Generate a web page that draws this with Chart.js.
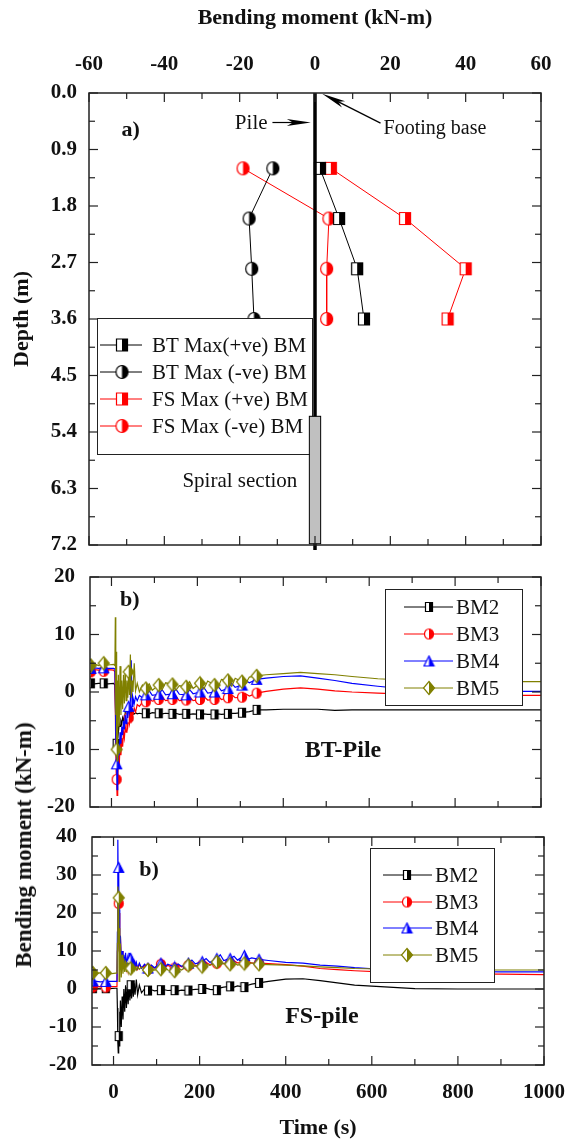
<!DOCTYPE html>
<html>
<head>
<meta charset="utf-8">
<script src="https://cdn.jsdelivr.net/npm/chart.js@4.4.1/dist/chart.umd.min.js"></script>
<style>
  html, body { margin: 0; padding: 0; background: #fff; }
  body { position: relative; width: 571px; height: 1146px; overflow: hidden; }
  canvas { position: absolute; left: 0; }
  #bmTitle {
    position: absolute; left: 24px; top: 845px;
    transform: translate(-50%, -50%) rotate(-90deg);
    white-space: nowrap; font: bold 23px "Liberation Serif", serif; color: #111;
  }
</style>
</head>
<body>
<canvas id="depthChart" width="571" height="560" style="top:0"></canvas>
<canvas id="btChart" width="571" height="260" style="top:560px"></canvas>
<canvas id="fsChart" width="571" height="326" style="top:820px"></canvas>
<div id="bmTitle">Bending moment (kN-m)</div>
<script>
const serif = 'Liberation Serif';
const ink = '#222';

// a) max bending moment along the pile
const depth = [1.2, 2.0, 2.8, 3.6];
const btMaxPos = [1.3, 6.4, 11.2, 13.0];
const btMaxNeg = [-11.2, -17.5, -16.8, -16.2];
const fsMaxPos = [4.2, 23.9, 40.0, 35.2];
const fsMaxNeg = [-19.1, 3.7, 3.1, 3.1];
const momentTicks = [-60, -40, -20, 0, 20, 40, 60];
const depthTicks = [0, 0.9, 1.8, 2.7, 3.6, 4.5, 5.4, 6.3, 7.2];

// b) time histories (BT pile and FS pile)
const time = [-50, -48, -40, -30, -18, -8, 5, 8, 9, 10,
  11, 12, 13, 14, 15, 16, 18, 20, 22, 24,
  26, 28, 30, 32, 34, 36, 38, 40, 42, 44,
  46, 48, 50, 53, 56, 60, 65, 72, 80, 88,
  95, 110, 118, 126, 142, 150, 158, 174, 182, 190,
  206, 215, 224, 240, 248, 256, 271, 280, 288, 304,
  312, 321, 338, 360, 400, 440, 480, 520, 560, 620,
  700, 800, 900, 1000];
const markTimes = [-48, -18, 12, 40, 80, 110, 142, 174, 206, 240, 271, 304, 338];

const btBM2 = [1.5, 1.5, 1.4, 1.5, 1.5, 1.4, 1.5, 1.2, -2, -5,
  -8, -9, -7, -8, -6, -7, -5.5, -6, -5, -5.5,
  -4.5, -5, -4.2, -4.6, -4, -4.4, -3.8, -4.2, -3.7, -4,
  -3.6, -3.9, -3.6, -3.8, -3.6, -3.8, -3.7, -3.8, -3.7, -3.8,
  -3.6, -3.7, -3.8, -3.7, -3.8, -3.7, -3.9, -3.8, -3.9, -3.8,
  -3.9, -3.8, -3.9, -3.9, -3.8, -3.9, -3.8, -3.7, -3.7, -3.6,
  -3.5, -3.4, -3.1, -3.1, -3.0, -3.0, -3.0, -3.2, -3.1, -3.1,
  -3.1, -3.1, -3.1, -3.1];
const btBM3 = [3.8, 3.5, 3.9, 3.8, 3.6, 3.9, 3.8, 3.5, -3, -10,
  -14, -15.2, -18, -13, -16, -11, -13, -9, -11, -8,
  -9.5, -7, -8, -6, -7, -5, -6, -4.5, -5.5, -4,
  -4.8, -3.2, -4, -2.8, -3.5, -2.2, -2.5, -1.8, -1.7, -1.2,
  -1.6, -1.3, -0.9, -1.5, -1.3, -0.8, -1.5, -1.4, -0.9, -1.5,
  -1.3, -0.8, -1.4, -1.3, -0.7, -1.3, -1.0, -0.5, -1.0, -0.9,
  -0.3, -0.7, -0.2, 0.1, 0.5, 0.7, 0.5, 0.2, 0, -0.2,
  -0.4, -0.6, -0.6, -0.6];
const btBM4 = [4.2, 4.1, 4.2, 4.1, 4.2, 4.1, 4.1, 4.0, 0, -8,
  -10, -12.5, -17, -11, -14, -9, -11, -7, -9, -6,
  -7.5, -5, -6.5, -4, -5.5, -3, -4.5, -2.5, -3.5, -1.5,
  5.5, -2.5, -1, -2, -0.8, -1.5, -0.6, -1, -0.5, 0.2,
  -0.6, -0.4, 0.4, -0.5, -0.3, 0.5, -0.4, -0.5, 0.4, -0.3,
  0, 0.8, -0.2, 0, 1.0, 0.2, 0.6, 1.5, 0.8, 1.2,
  2.0, 1.6, 2.2, 2.4, 2.7, 2.8, 2.4, 2.0, 1.5, 1.0,
  0.4, 0.0, 0.1, 0.1];
const btBM5 = [5.0, 4.6, 4.9, 4.6, 5.0, 4.7, 4.8, 4.6, 13, -4,
  7, -10, -12, 2, -8, 3, -6, 4.5, -4, 2,
  -3, 3, -2, 4, -1.5, 2, -1, 3.5, -0.5, 6.5,
  -1, 2, 0, 5, 0.2, 1.5, 0, 1.2, 0.6, 1.4,
  0.3, 1.2, 0.4, 1.6, 1.3, 0.3, 1.1, 0.9, 1.8, 0.6,
  1.5, 0.5, 1.9, 1.2, 0.8, 2.2, 2.0, 1.0, 2.4, 1.8,
  1.4, 2.6, 2.8, 3.0, 3.2, 3.4, 3.2, 3.0, 2.7, 2.3,
  2.0, 1.8, 1.8, 1.8];

const fsBM2 = [0.2, 0.2, 0.1, 0.2, 0.2, 0.1, 0.2, 0.2, -5, -14,
  -16.8, -12.4, -15, -6, -12, -3, -10, -2, -8, 0,
  -6, 1, -5, 0.5, -4, 1.5, -3, 1, -2.5, 2,
  -2, 1.5, -1.5, 2.5, -1.5, 1, -1, 0, -0.4, -0.2,
  -0.5, -0.3, -0.2, -0.4, -0.3, -0.5, -0.3, -0.4, -0.2, -0.1,
  0, 0.2, -0.1, -0.3, 0.3, 0.5, 0.7, 0.5, 0.8, 0.5,
  1.0, 1.3, 1.6, 2.0, 2.6, 2.7, 2.2, 1.6, 1.0, 0.6,
  0.1, 0, 0, 0];
const fsBM3 = [0.6, 0.5, 0.6, 0.6, 0.5, 0.6, 0.6, 0.6, 10, 24,
  18, 22.5, 14, 20, 9, 14, 7, 10, 6, 8.5,
  5, 8, 5.5, 7.5, 5, 7, 5.5, 6.5, 5, 7,
  5.5, 6.5, 5.5, 6.5, 5.2, 6.5, 5.5, 6.3, 5.2, 6.0,
  5.5, 6.5, 5.6, 6.2, 5.5, 6.3, 5.8, 6.2, 7.0, 6.0,
  6.3, 7.0, 6.4, 6.8, 7.3, 6.6, 6.8, 7.4, 6.9, 7.0,
  7.4, 6.8, 6.8, 6.7, 6.4, 6.0, 5.4, 5.1, 4.8, 4.5,
  4.2, 4.0, 3.9, 3.8];
const fsBM4 = [2.0, 2.1, 2.0, 1.9, 2.0, 2.0, 2.0, 2.0, 15, 39.3,
  25, 32, 12, 21, 8, 14, 7, 10, 6, 9,
  6, 9.5, 6, 8, 5.5, 9.5, 6, 8, 5.5, 7.5,
  6, 7, 5.5, 7, 5.5, 6.8, 5.5, 6.5, 5.5, 6.3,
  5.6, 6.8, 5.8, 6.5, 5.8, 6.6, 6.0, 6.8, 7.6, 6.6,
  7.2, 8.0, 7.0, 8.0, 9.0, 7.5, 8.0, 8.6, 7.6, 8.8,
  7.8, 8.2, 7.8, 7.5, 7.0, 6.8, 6.3, 6.0, 5.6, 5.2,
  4.9, 4.6, 4.5, 4.5];
const fsBM5 = [4.3, 4.2, 4.0, 4.3, 4.2, 4.0, 4.2, 4.2, 12, 27,
  20, 24, 2, 16, 4, 12, 3, 9, 4, 8,
  4.5, 7.5, 4.5, 7, 4.8, 6.5, 5, 5.4, 6.2, 4.8,
  6, 5, 5.8, 5, 5.8, 5.2, 5.8, 5.2, 5.0, 5.8,
  5.0, 5.2, 5.9, 5.0, 4.7, 5.5, 5.0, 6.2, 5.5, 6.2,
  5.9, 6.5, 6.2, 7.1, 6.3, 6.8, 6.5, 7.0, 6.3, 6.7,
  6.4, 6.9, 6.5, 6.4, 6.3, 6.1, 5.8, 5.6, 5.4, 5.3,
  5.2, 5.0, 5.0, 5.0];

const timeTicks = [0, 200, 400, 600, 800, 1000];
const btTicks = [-20, -10, 0, 10, 20];
const fsTicks = [-20, -10, 0, 10, 20, 30, 40];
const gauges = ['BM2', 'BM3', 'BM4', 'BM5'];
const gaugeColors = ['#000000', '#ff0000', '#0000ff', '#808000'];

Chart.defaults.font.family = serif;
Chart.defaults.color = '#111';

// half filled symbols like the Origin ones: left half white, right half coloured
function halfMarker(shape, color, w, h) {
  const pad = 1.5;
  const c = document.createElement('canvas');
  c.width = Math.ceil(w + pad * 2);
  c.height = Math.ceil(h + pad * 2);
  const g = c.getContext('2d');
  g.translate(pad, pad);
  const path = () => {
    g.beginPath();
    if (shape === 'rect') g.rect(0, 0, w, h);
    else if (shape === 'circle') g.ellipse(w / 2, h / 2, w / 2, h / 2, 0, 0, Math.PI * 2);
    else if (shape === 'triangle') { g.moveTo(w / 2, 0); g.lineTo(w, h); g.lineTo(0, h); g.closePath(); }
    else { g.moveTo(w / 2, 0); g.lineTo(w, h / 2); g.lineTo(w / 2, h); g.lineTo(0, h / 2); g.closePath(); }
  };
  path(); g.fillStyle = '#fff'; g.fill();
  g.save();
  g.beginPath(); g.rect(w / 2, -pad, w, h + pad * 2); g.clip();
  path(); g.fillStyle = color; g.fill();
  g.restore();
  path(); g.lineWidth = 1.2; g.strokeStyle = color; g.stroke();
  return c;
}

const gaugeMarkers = [
  halfMarker('rect', gaugeColors[0], 7, 9),
  halfMarker('circle', gaugeColors[1], 9, 10),
  halfMarker('triangle', gaugeColors[2], 10, 10),
  halfMarker('diamond', gaugeColors[3], 11, 13)
];

const minorsOf = list => list.slice(1).map((v, i) => (v + list[i]) / 2);
const fixedTicks = list => s => { s.ticks = list.map(v => ({ value: v })); };

function line(ctx, x1, y1, x2, y2) {
  ctx.beginPath(); ctx.moveTo(x1, y1); ctx.lineTo(x2, y2); ctx.stroke();
}

function arrow(ctx, x1, y1, x2, y2, head, half) {
  const ang = Math.atan2(y2 - y1, x2 - x1);
  ctx.strokeStyle = '#000'; ctx.fillStyle = '#000'; ctx.lineWidth = 1.2;
  line(ctx, x1, y1, x2 - Math.cos(ang) * head * 0.6, y2 - Math.sin(ang) * head * 0.6);
  ctx.save();
  ctx.translate(x2, y2); ctx.rotate(ang);
  ctx.beginPath(); ctx.moveTo(0, 0); ctx.lineTo(-head, -half); ctx.lineTo(-head * 0.75, 0); ctx.lineTo(-head, half); ctx.closePath();
  ctx.fill();
  ctx.restore();
}

function drawLegend(chart, L) {
  const ctx = chart.ctx;
  ctx.fillStyle = '#fff';
  ctx.fillRect(L.x, L.y, L.w, L.h);
  ctx.strokeStyle = ink; ctx.lineWidth = 1;
  ctx.strokeRect(L.x + 0.5, L.y + 0.5, L.w, L.h);
  ctx.font = L.font; ctx.textBaseline = 'middle'; ctx.textAlign = 'left';
  chart.data.datasets.forEach((ds, i) => {
    const y = L.rows[i];
    ctx.strokeStyle = ds.borderColor; ctx.lineWidth = 1;
    line(ctx, L.x1, y, L.x2, y);
    const m = ds.pointStyle;
    ctx.drawImage(m, L.mx - m.width / 2, y - m.height / 2);
    ctx.fillStyle = '#111';
    ctx.fillText(ds.label, L.tx, y + 1);
  });
}

// frame, inward tick marks on all four sides, legend and labels
function decor(cfg) {
  return {
    id: 'decor',
    afterDatasetsDraw(chart) {
      const { ctx, chartArea: a, scales } = chart;
      ctx.save();
      if (cfg.legend) drawLegend(chart, cfg.legend);
      if (cfg.extra) cfg.extra(chart);
      ctx.strokeStyle = ink; ctx.lineWidth = 1.2;
      const marks = (vals, len, sc) => vals.forEach(v => {
        const p = sc.getPixelForValue(v);
        if (sc.isHorizontal()) {
          if (p < a.left - 0.5 || p > a.right + 0.5) return;
          line(ctx, p, a.bottom, p, a.bottom - len);
          line(ctx, p, a.top, p, a.top + len);
        } else {
          if (p < a.top - 0.5 || p > a.bottom + 0.5) return;
          line(ctx, a.left, p, a.left + len, p);
          line(ctx, a.right, p, a.right - len, p);
        }
      });
      marks(cfg.xTicks, 9, scales.x);
      marks(minorsOf(cfg.xTicks), 6, scales.x);
      marks(cfg.yTicks, 9, scales.y);
      marks(minorsOf(cfg.yTicks), 6, scales.y);
      ctx.lineWidth = 1.5;
      ctx.strokeRect(a.left, a.top, a.width, a.height);
      ctx.restore();
    }
  };
}

// fixed axis width, and no extra room for the end labels
const yFit = w => s => { s.width = w; s.paddingTop = 0; s.paddingBottom = 0; };
const xFit = h => s => { s.height = h; s.paddingLeft = 0; s.paddingRight = 0; };

function textAt(ctx, str, x, y, font, align) {
  ctx.font = font; ctx.fillStyle = '#111';
  ctx.textAlign = align || 'left'; ctx.textBaseline = 'middle';
  ctx.fillText(str, x, y);
}

// pile sketch and notes in panel a)
function drawPile(chart) {
  const { ctx, scales: { x, y } } = chart;
  const X = v => x.getPixelForValue(v);
  const Y = v => y.getPixelForValue(v);
  ctx.strokeStyle = '#000'; ctx.lineWidth = 3.5;
  line(ctx, X(0), Y(0), X(0), Y(7.2) + 5);
  ctx.fillStyle = '#c0c0c0';
  ctx.fillRect(X(-1.5), Y(5.15), X(1.5) - X(-1.5), Y(7.18) - Y(5.15));
  ctx.lineWidth = 1; ctx.strokeStyle = '#000';
  ctx.strokeRect(X(-1.5), Y(5.15), X(1.5) - X(-1.5), Y(7.18) - Y(5.15));
  textAt(ctx, 'a)', X(-51.4), Y(0.59), 'bold 22px ' + serif);
  textAt(ctx, 'Pile', X(-12.6), Y(0.49), '21px ' + serif, 'right');
  arrow(ctx, X(-11.3), Y(0.47), X(-1.1), Y(0.47), 24, 3.5);
  textAt(ctx, 'Footing base', X(18.2), Y(0.57), '20px ' + serif);
  arrow(ctx, X(17.4), Y(0.48), X(1.9), Y(0.01), 24, 3.5);
  textAt(ctx, 'Spiral section', X(-35.2), Y(6.19), '21px ' + serif);
}

const depthData = vals => depth.map((d, i) => ({ x: vals[i], y: d }));

new Chart(document.getElementById('depthChart'), {
  type: 'scatter',
  data: {
    datasets: [
      { label: 'BT Max(+ve) BM', data: depthData(btMaxPos), borderColor: '#000', pointStyle: halfMarker('rect', '#000', 11, 12) },
      { label: 'BT Max (-ve) BM', data: depthData(btMaxNeg), borderColor: '#000', pointStyle: halfMarker('circle', '#000', 12, 13) },
      { label: 'FS Max (+ve) BM', data: depthData(fsMaxPos), borderColor: '#ff0000', pointStyle: halfMarker('rect', '#ff0000', 11, 12) },
      { label: 'FS Max (-ve) BM', data: depthData(fsMaxNeg), borderColor: '#ff0000', pointStyle: halfMarker('circle', '#ff0000', 12, 13) }
    ].map(ds => Object.assign(ds, { showLine: true, borderWidth: 1, pointRadius: 6, clip: false }))
  },
  options: {
    responsive: false, animation: false, events: [],
    layout: { padding: { left: 0, right: 30, top: 0, bottom: 15 } },
    plugins: { legend: { display: false }, tooltip: { enabled: false } },
    scales: {
      x: {
        type: 'linear', position: 'top', min: -60, max: 60,
        afterBuildTicks: fixedTicks(momentTicks),
        afterFit: xFit(93),
        grid: { display: false, drawTicks: false }, border: { display: false },
        ticks: { font: { size: 21, weight: 'bold' }, padding: 16, maxRotation: 0 },
        title: { display: true, text: 'Bending moment (kN-m)', font: { size: 22, weight: 'bold' }, padding: { top: 5, bottom: 0 } }
      },
      y: {
        type: 'linear', reverse: true, min: 0, max: 7.2,
        afterBuildTicks: fixedTicks(depthTicks),
        afterFit: yFit(89),
        grid: { display: false, drawTicks: false }, border: { display: false },
        ticks: { font: { size: 21, weight: 'bold' }, padding: 12, callback: v => v.toFixed(1) },
        title: { display: true, text: 'Depth (m)', font: { size: 22, weight: 'bold' }, padding: { top: 9, bottom: 0 } }
      }
    }
  },
  plugins: [decor({
    xTicks: momentTicks, yTicks: depthTicks,
    legend: { x: 97, y: 318, w: 215, h: 136, rows: [345, 372, 399, 426], x1: 100, x2: 142, mx: 122, tx: 152, font: '21px ' + serif },
    extra: drawPile
  })]
});

function timeChart(id, series, yTicks, opts) {
  const datasets = gauges.map((g, i) => ({
    label: g,
    data: time.map((t, k) => ({ x: t, y: series[i][k] })),
    showLine: true,
    borderColor: gaugeColors[i],
    borderWidth: 1.2,
    pointStyle: gaugeMarkers[i],
    pointRadius: c => (c.raw && markTimes.includes(c.raw.x)) ? 5 : 0,
    order: 3 - i
  }));
  const xAxis = {
    type: 'linear', min: -50, max: 1000,
    afterBuildTicks: fixedTicks(timeTicks),
    grid: { display: false, drawTicks: false }, border: { display: false }
  };
  if (opts.showTime) {
    Object.assign(xAxis, {
      afterFit: xFit(opts.xHeight),
      ticks: { font: { size: 21, weight: 'bold' }, padding: 15, maxRotation: 0, callback: v => String(v) },
      title: { display: true, text: 'Time (s)', font: { size: 22, weight: 'bold' }, padding: { top: 0, bottom: 4 } }
    });
  } else {
    Object.assign(xAxis, { afterFit: xFit(0), ticks: { display: false } });
  }
  return new Chart(document.getElementById(id), {
    type: 'scatter',
    data: { datasets },
    options: {
      responsive: false, animation: false, events: [],
      layout: { padding: opts.padding },
      plugins: { legend: { display: false }, tooltip: { enabled: false } },
      scales: {
        x: xAxis,
        y: {
          type: 'linear', min: yTicks[0], max: yTicks[yTicks.length - 1],
          afterBuildTicks: fixedTicks(yTicks),
          afterFit: yFit(opts.yWidth),
          grid: { display: false, drawTicks: false }, border: { display: false },
          ticks: { font: { size: 21, weight: 'bold' }, padding: 15 }
        }
      }
    },
    plugins: [decor({
      xTicks: timeTicks, yTicks: yTicks,
      legend: opts.legend,
      extra: chart => {
        const { ctx, scales: { x, y } } = chart;
        textAt(ctx, 'b)', x.getPixelForValue(opts.tagAt[0]), y.getPixelForValue(opts.tagAt[1]), 'bold 22px ' + serif);
        textAt(ctx, opts.name, x.getPixelForValue(opts.nameAt[0]), y.getPixelForValue(opts.nameAt[1]), 'bold 24px ' + serif, 'center');
      }
    })]
  });
}

timeChart('btChart', [btBM2, btBM3, btBM4, btBM5], btTicks, {
  padding: { left: 0, right: 30, top: 17, bottom: 13 },
  yWidth: 90, showTime: false,
  legend: { x: 385, y: 29, w: 137, h: 116, rows: [47, 74, 101, 128], x1: 404, x2: 453, mx: 429, tx: 456, font: '21px ' + serif },
  tagAt: [20, 15.9], name: 'BT-Pile', nameAt: [539, -10.3]
});

timeChart('fsChart', [fsBM2, fsBM3, fsBM4, fsBM5], fsTicks, {
  padding: { left: 0, right: 27, top: 17, bottom: 0 },
  yWidth: 92, showTime: true, xHeight: 81,
  legend: { x: 370, y: 28, w: 124, h: 134, rows: [55, 82, 108, 135], x1: 383, x2: 432, mx: 407, tx: 435, font: '21px ' + serif },
  tagAt: [60, 31.3], name: 'FS-pile', nameAt: [484, -7.2]
});
</script>
</body>
</html>
